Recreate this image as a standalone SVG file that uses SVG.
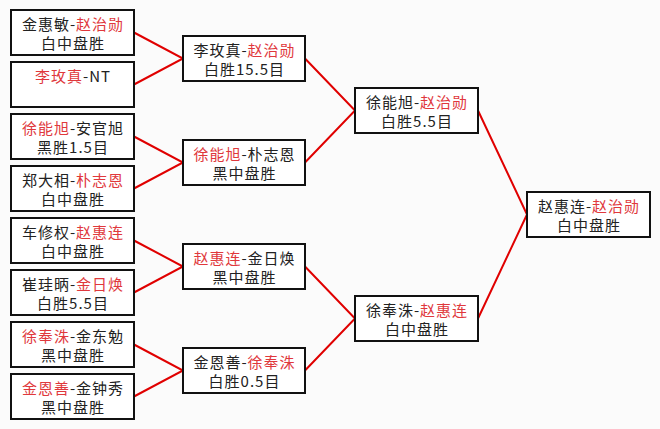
<svg xmlns="http://www.w3.org/2000/svg" width="660" height="429" viewBox="0 0 660 429">
<style>
.box{fill:#ffffff;stroke:#111111;stroke-width:2}
.t{font-family:"Noto Sans CJK SC","Noto Sans",sans-serif;font-size:15px;letter-spacing:1px;fill:#222222;text-anchor:middle}
.r{fill:#e0383c}
.c{fill:none;stroke:#e00000;stroke-width:2}
</style>
<rect x="0" y="0" width="660" height="429" fill="#fbfbfb"/>
<g id="connectors">
<polyline class="c" points="134,32.5 183,58.5 134,84.5"/>
<polyline class="c" points="134,136.5 183,162.5 134,188.5"/>
<polyline class="c" points="134,240.5 183,266.5 134,292.5"/>
<polyline class="c" points="134,344.5 183,370.5 134,396.5"/>
<polyline class="c" points="305,58.5 355,110.5 305,162.5"/>
<polyline class="c" points="305,266.5 355,318.5 305,370.5"/>
<polyline class="c" points="478,110.5 527,214.5 478,318.5"/>
</g>
<g id="n1"><rect class="box" x="11" y="10" width="123" height="45"/><text class="t" x="73" y="30">金惠敏-<tspan class="r">赵治勋</tspan></text><text class="t" x="73" y="49">白中盘胜</text></g>
<g id="n2"><rect class="box" x="11" y="62" width="123" height="45"/><text class="t" x="73" y="82"><tspan class="r">李玫真</tspan>-NT</text></g>
<g id="n3"><rect class="box" x="11" y="114" width="123" height="45"/><text class="t" x="73" y="134"><tspan class="r">徐能旭</tspan>-安官旭</text><text class="t" x="73" y="153">黑胜1.5目</text></g>
<g id="n4"><rect class="box" x="11" y="166" width="123" height="45"/><text class="t" x="73" y="186">郑大相-<tspan class="r">朴志恩</tspan></text><text class="t" x="73" y="205">白中盘胜</text></g>
<g id="n5"><rect class="box" x="11" y="218" width="123" height="45"/><text class="t" x="73" y="238">车修权-<tspan class="r">赵惠连</tspan></text><text class="t" x="73" y="257">白中盘胜</text></g>
<g id="n6"><rect class="box" x="11" y="270" width="123" height="45"/><text class="t" x="73" y="290">崔珪昞-<tspan class="r">金日焕</tspan></text><text class="t" x="73" y="309">白胜5.5目</text></g>
<g id="n7"><rect class="box" x="11" y="322" width="123" height="45"/><text class="t" x="73" y="342"><tspan class="r">徐奉洙</tspan>-金东勉</text><text class="t" x="73" y="361">黑中盘胜</text></g>
<g id="n8"><rect class="box" x="11" y="374" width="123" height="45"/><text class="t" x="73" y="394"><tspan class="r">金恩善</tspan>-金钟秀</text><text class="t" x="73" y="413">黑中盘胜</text></g>
<g id="s1"><rect class="box" x="183" y="36" width="122" height="45"/><text class="t" x="244.5" y="56">李玫真-<tspan class="r">赵治勋</tspan></text><text class="t" x="244.5" y="75">白胜15.5目</text></g>
<g id="s2"><rect class="box" x="183" y="140" width="122" height="45"/><text class="t" x="244.5" y="160"><tspan class="r">徐能旭</tspan>-朴志恩</text><text class="t" x="244.5" y="179">黑中盘胜</text></g>
<g id="s3"><rect class="box" x="183" y="244" width="122" height="45"/><text class="t" x="244.5" y="264"><tspan class="r">赵惠连</tspan>-金日焕</text><text class="t" x="244.5" y="283">黑中盘胜</text></g>
<g id="s4"><rect class="box" x="183" y="348" width="122" height="45"/><text class="t" x="244.5" y="368">金恩善-<tspan class="r">徐奉洙</tspan></text><text class="t" x="244.5" y="387">白胜0.5目</text></g>
<g id="q1"><rect class="box" x="355" y="88" width="123" height="45"/><text class="t" x="417" y="108">徐能旭-<tspan class="r">赵治勋</tspan></text><text class="t" x="417" y="127">白胜5.5目</text></g>
<g id="q2"><rect class="box" x="355" y="296" width="123" height="45"/><text class="t" x="417" y="316">徐奉洙-<tspan class="r">赵惠连</tspan></text><text class="t" x="417" y="335">白中盘胜</text></g>
<g id="final"><rect class="box" x="527" y="192" width="123" height="45"/><text class="t" x="589" y="212">赵惠连-<tspan class="r">赵治勋</tspan></text><text class="t" x="589" y="231">白中盘胜</text></g>
</svg>
